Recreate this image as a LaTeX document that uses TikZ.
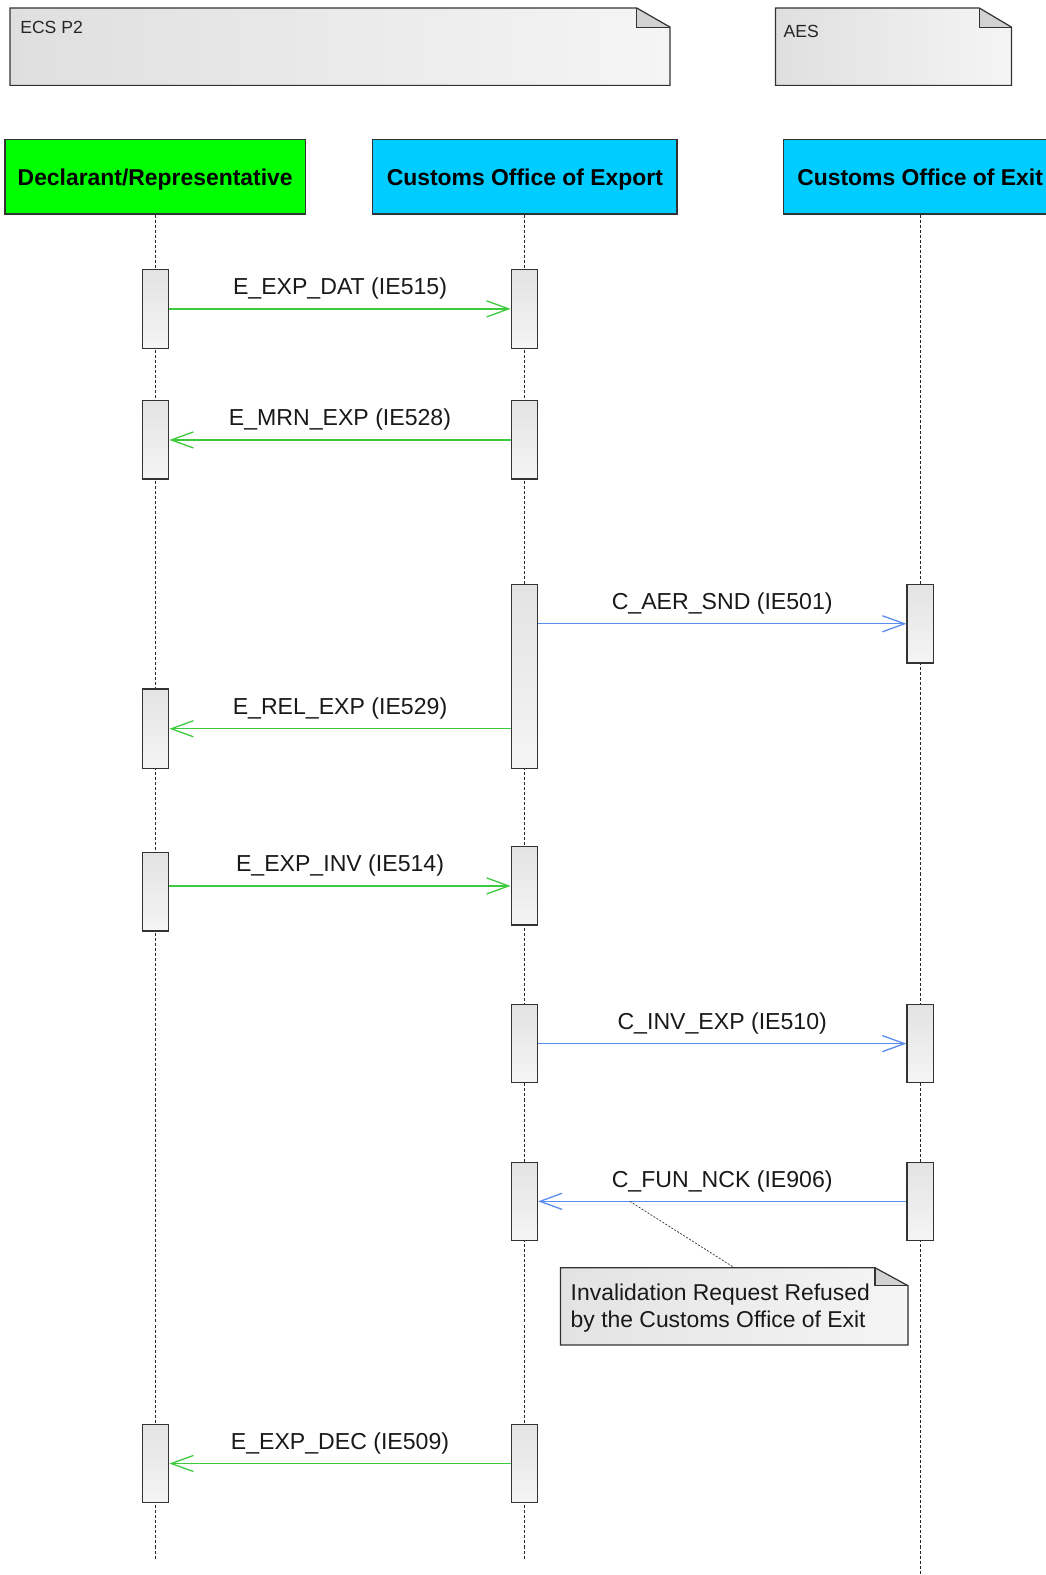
\documentclass[tikz,border=0pt]{standalone}
\usepackage{fontspec}
\setmainfont{Liberation Sans}
\usetikzlibrary{arrows.meta,calc}
\definecolor{gline}{HTML}{3DCB3D}
\definecolor{bline}{HTML}{5B8DF0}
\definecolor{headgreen}{HTML}{00FF00}
\definecolor{headcyan}{HTML}{00CCFF}
\definecolor{edgec}{HTML}{333333}
\newcommand\drawnote[4]{% name, fold width, fold height, fill start
  \fill[left color=#4, right color=gray!8] (#1.south west) -- (#1.north west) -- ($(#1.north east)+(-#2,0)$) -- ($(#1.north east)+(0,#3)$) -- (#1.south east) -- cycle;
  \fill[gray!35] ($(#1.north east)+(-#2,0)$) -- ($(#1.north east)+(-#2,#3)$) -- ($(#1.north east)+(0,#3)$) -- cycle;
  \draw[edgec, line width=1.2pt, line join=miter] (#1.south west) -- (#1.north west) -- ($(#1.north east)+(-#2,0)$) -- ($(#1.north east)+(0,#3)$) -- (#1.south east) -- cycle;
  \draw[edgec, line width=1.2pt] ($(#1.north east)+(-#2,0)$) -- ($(#1.north east)+(-#2,#3)$) -- ($(#1.north east)+(0,#3)$);
}
\begin{document}
\begin{tikzpicture}[x=1pt,y=-1pt,
  head/.style={draw=edgec, line width=1.2pt, minimum height=74pt, inner sep=0pt, text depth=0pt, font=\fontsize{22.8}{26}\selectfont\bfseries},
  act/.style={draw=edgec, line width=1.3pt, top color=gray!22, bottom color=gray!8, minimum width=26pt, inner sep=0pt},
  lifeline/.style={draw=black!85, line width=0.7pt, dash pattern=on 3pt off 2pt},
  notebody/.style={inner sep=0pt, outer sep=0pt},
  notetext/.style={font=\fontsize{17.5}{20}\selectfont, text=black!85, anchor=west, inner sep=0pt},
  msg/.style={line width=1.3pt, -{Straight Barb[length=22pt, width=16pt, line width=1.3pt]}},
  gmsg/.style={msg, draw=gline},
  bmsg/.style={msg, draw=bline},
  lbl/.style={font=\fontsize{23}{26}\selectfont, text=black!90, anchor=base, yshift=14pt, inner sep=0pt}
]
\useasboundingbox (0,0) rectangle (1041,1568);
\fill[white] (0,0) rectangle (1041,1568);

% system notes
\node[notebody, minimum width=657pt, minimum height=77pt] (ecs) at (338.5,46.5) {};
\drawnote{ecs}{33}{19}{gray!25}
\node[notetext] (ecst) at (20,27) {ECS P2};
\node[notebody, minimum width=235pt, minimum height=77pt] (aes) at (889.5,46.5) {};
\drawnote{aes}{32}{19}{gray!25}
\node[notetext] (aest) at (780,31) {AES};

% heads
\node[head, fill=headgreen, minimum width=299pt] (decl) at (154.5,176) {Declarant/Representative};
\node[head, fill=headcyan, minimum width=303pt] (expo) at (522.5,176) {Customs Office of Export};
\node[head, fill=headcyan, minimum width=272pt] (exit) at (916,176) {Customs Office of Exit};

% lifelines
\coordinate (declend) at (155,1552);
\coordinate (expoend) at (522,1552);
\coordinate (exitend) at (916,1570);
\draw[lifeline] (decl.south -| declend) -- (declend);
\draw[lifeline] (expo.south -| expoend) -- (expoend);
\draw[lifeline] (exit.south -| exitend) -- (exitend);

% activations
\node[act, minimum height=79pt] (d1) at (155,307.5) {};
\node[act, minimum height=79pt] (e1) at (522,307.5) {};
\node[act, minimum height=78pt] (d2) at (155,438) {};
\node[act, minimum height=78pt] (e2) at (522,438) {};
\node[act, minimum height=183pt] (e3) at (522,673.5) {};
\node[act, minimum height=78pt] (x3) at (916,621) {};
\node[act, minimum height=79pt] (d4) at (155,725.5) {};
\node[act, minimum height=78pt] (d5) at (155,888) {};
\node[act, minimum height=78pt] (e5) at (522,882) {};
\node[act, minimum height=78pt] (e6) at (522,1039) {};
\node[act, minimum height=78pt] (x6) at (916,1039) {};
\node[act, minimum height=78pt] (e7) at (522,1196) {};
\node[act, minimum height=78pt] (x7) at (916,1196) {};
\node[act, minimum height=78pt] (d8) at (155,1457) {};
\node[act, minimum height=78pt] (e8) at (522,1457) {};

% messages
\draw[gmsg] (d1.east) -- node[lbl] {E\_EXP\_DAT (IE515)} (e1.west);
\draw[gmsg] (e2.west) -- node[lbl] {E\_MRN\_EXP (IE528)} (d2.east);
\draw[bmsg] (x3.west -| e3.east) -- node[lbl] {C\_AER\_SND (IE501)} (x3.west);
\draw[gmsg] (d4.east -| e3.west) -- node[lbl] {E\_REL\_EXP (IE529)} (d4.east);
\draw[gmsg] (e5.west -| d5.east) -- node[lbl] {E\_EXP\_INV (IE514)} (e5.west);
\draw[bmsg] (e6.east) -- node[lbl] {C\_INV\_EXP (IE510)} (x6.west);
\draw[bmsg] (x7.west) -- node[lbl] {C\_FUN\_NCK (IE906)} (e7.east);
\draw[gmsg] (e8.west) -- node[lbl] {E\_EXP\_DEC (IE509)} (d8.east);

% comment note
\node[notebody, minimum width=346pt, minimum height=77pt] (refn) at (731,1300.5) {};
\drawnote{refn}{33}{18}{gray!22}
\node[font=\fontsize{22.8}{27}\selectfont, text=black!90, anchor=north west, align=left, inner sep=0pt] (refnt) at (568,1277.5) {Invalidation Request Refused\\by the Customs Office of Exit};
\coordinate (fnck) at (627,1196);
\draw[black!80, line width=0.7pt, dash pattern=on 2pt off 1.5pt] (fnck) -- (refn.north);
\end{tikzpicture}
\end{document}
